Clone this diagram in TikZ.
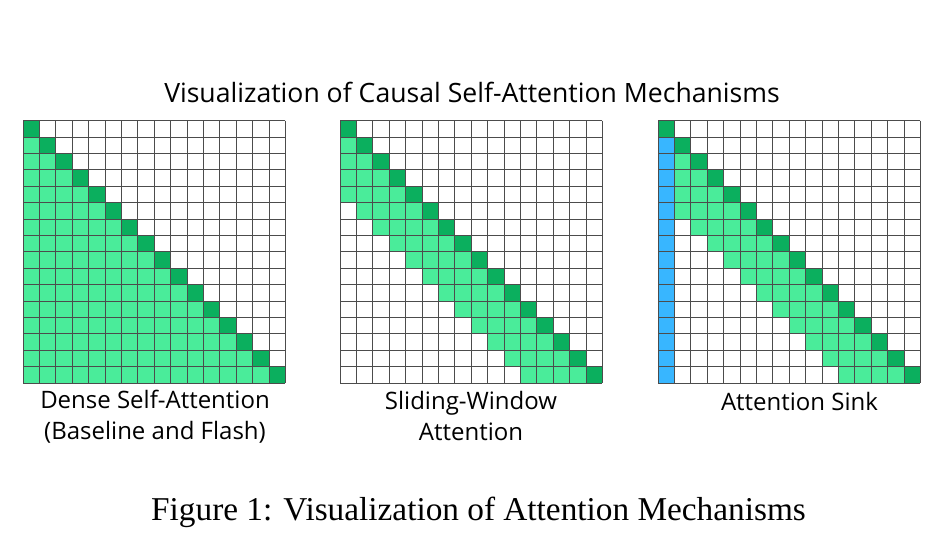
\documentclass[tikz,border=0pt]{standalone}
\usepackage{fontspec}
\newfontfamily\labelfont{Open Sans}
\newfontfamily\capfont{Liberation Serif}
\definecolor{diaggreen}{HTML}{0BAF5E}
\definecolor{bandgreen}{HTML}{4AEC9A}
\definecolor{sinkblue}{HTML}{38B6FF}
\def\cs{16.4}

\begin{document}
\begin{tikzpicture}[x=1pt, y=-1pt]
    \tikzstyle{every node} = [inner sep=0pt, align=center]
    \tikzstyle{diagcell} = [fill=diaggreen]
    \tikzstyle{bandcell} = [fill=bandgreen]
    \tikzstyle{sinkcell} = [fill=sinkblue]
    \tikzstyle{gridline} = [draw=black!70, line width=1pt]
    \tikzstyle{panellabel} = [font=\labelfont\fontsize{24}{30.5}\selectfont, anchor=base]
    \useasboundingbox (0,0) rectangle (935,555);

    \node (title) [anchor=base, font=\labelfont\fontsize{26.6}{30}\selectfont] at (472,102.7)
        {Visualization of Causal Self-Attention Mechanisms};

    % dense causal mask
    \begin{scope}[shift={(23,120.7)}]
      \foreach \r in {0,...,15}
        \foreach \c in {0,...,\r}
          \fill[bandcell] (\c*\cs,\r*\cs) rectangle ++(\cs,\cs);
      \foreach \r in {0,...,15}
        \fill[diagcell] (\r*\cs,\r*\cs) rectangle ++(\cs,\cs);
      \foreach \k in {0,...,16} {
        \draw[gridline] (\k*\cs,0) -- (\k*\cs,16*\cs);
        \draw[gridline] (0,\k*\cs) -- (16*\cs,\k*\cs);
      }
    \end{scope}

    % sliding window
    \begin{scope}[shift={(340,120.7)}]
      \foreach \r in {0,...,15} {
        \pgfmathtruncatemacro\lo{max(0,\r-4)}
        \foreach \c in {\lo,...,\r}
          \fill[bandcell] (\c*\cs,\r*\cs) rectangle ++(\cs,\cs);
      }
      \foreach \r in {0,...,15}
        \fill[diagcell] (\r*\cs,\r*\cs) rectangle ++(\cs,\cs);
      \foreach \k in {0,...,16} {
        \draw[gridline] (\k*\cs,0) -- (\k*\cs,16*\cs);
        \draw[gridline] (0,\k*\cs) -- (16*\cs,\k*\cs);
      }
    \end{scope}

    % attention sink
    \begin{scope}[shift={(658,120.7)}]
      \foreach \r in {0,...,15} {
        \pgfmathtruncatemacro\lo{max(0,\r-4)}
        \foreach \c in {\lo,...,\r}
          \fill[bandcell] (\c*\cs,\r*\cs) rectangle ++(\cs,\cs);
      }
      \foreach \r in {1,...,15}
        \fill[sinkcell] (0,\r*\cs) rectangle ++(\cs,\cs);
      \foreach \r in {0,...,15}
        \fill[diagcell] (\r*\cs,\r*\cs) rectangle ++(\cs,\cs);
      \foreach \k in {0,...,16} {
        \draw[gridline] (\k*\cs,0) -- (\k*\cs,16*\cs);
        \draw[gridline] (0,\k*\cs) -- (16*\cs,\k*\cs);
      }
    \end{scope}

    % labels (base anchor sits on the last line)
    \node (dense) [panellabel] at (155,439) {Dense Self-Attention\\(Baseline and Flash)};
    \node (slide) [panellabel] at (471,440) {Sliding-Window\\Attention};
    \node (sink) [panellabel] at (799.5,410) {Attention Sink};

    \node (caption) [anchor=base, font=\capfont\fontsize{33.3}{38}\selectfont] at (478.5,520.7)
        {Figure 1: Visualization of Attention Mechanisms};
\end{tikzpicture}
\end{document}
